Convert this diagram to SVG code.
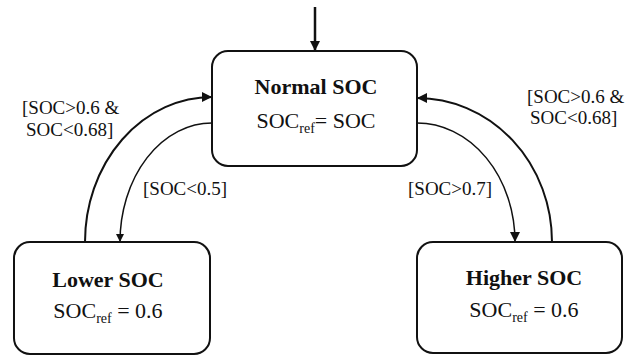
<svg xmlns="http://www.w3.org/2000/svg" width="640" height="359" viewBox="0 0 640 359">
<defs>
<style>
.box{fill:#fff;stroke:#111;stroke-width:2}
text{font-family:'Liberation Serif','DejaVu Serif',serif;fill:#111}
.t{text-anchor:middle}
.b{font-weight:bold;font-size:22px}
.r{font-size:22px}
.sub{font-size:14px}
.lab{font-size:19px}
.c{fill:none;stroke:#111}
</style>
<marker id="ah" viewBox="0 0 10 10" refX="10" refY="5" markerWidth="10" markerHeight="10" markerUnits="userSpaceOnUse" orient="auto">
<path d="M0,0 L10,5 L0,10 z" fill="#111"/>
</marker>
<marker id="ahs" viewBox="0 0 10 10" refX="10" refY="5" markerWidth="8" markerHeight="8" markerUnits="userSpaceOnUse" orient="auto">
<path d="M0,0 L10,5 L0,10 z" fill="#111"/>
</marker>
</defs>
<g id="connectors">
<path class="c" d="M315,7 L315,51" stroke-width="2.5" marker-end="url(#ah)"/>
<path class="c" d="M85,242 A127,145 0 0 1 212,97" stroke-width="2" marker-end="url(#ah)"/>
<path class="c" d="M212,123 A92,119 0 0 0 120,242" stroke-width="1.5" marker-end="url(#ahs)"/>
<path class="c" d="M417,123 A98,119 0 0 1 515,242" stroke-width="1.5" marker-end="url(#ah)"/>
<path class="c" d="M552,242 A135,144 0 0 0 417,98" stroke-width="2" marker-end="url(#ah)"/>
</g>
<g id="labels">
<text class="lab" x="22" y="114">[SOC&gt;0.6 &amp;</text>
<text class="lab" x="26" y="136">SOC&lt;0.68]</text>
<text class="lab" x="143" y="195">[SOC&lt;0.5]</text>
<text class="lab" x="408" y="195">[SOC&gt;0.7]</text>
<text class="lab" x="527" y="103">[SOC&gt;0.6 &amp;</text>
<text class="lab" x="530" y="124">SOC&lt;0.68]</text>
</g>
<g id="normal">
<rect class="box" x="212" y="51" width="205" height="115" rx="16"/>
<text class="t b" x="316" y="94">Normal SOC</text>
<text class="t r" x="316" y="128">SOC<tspan class="sub" dy="5">ref</tspan><tspan dy="-5">= SOC</tspan></text>
</g>
<g id="lower">
<rect class="box" x="14" y="242" width="196" height="112" rx="16"/>
<text class="t b" x="108" y="287">Lower SOC</text>
<text class="t r" x="108" y="318">SOC<tspan class="sub" dy="5">ref</tspan><tspan dy="-5"> = 0.6</tspan></text>
</g>
<g id="higher">
<rect class="box" x="417" y="242" width="205" height="111" rx="16"/>
<text class="t b" x="524" y="285">Higher SOC</text>
<text class="t r" x="524" y="317">SOC<tspan class="sub" dy="5">ref</tspan><tspan dy="-5"> = 0.6</tspan></text>
</g>
</svg>
